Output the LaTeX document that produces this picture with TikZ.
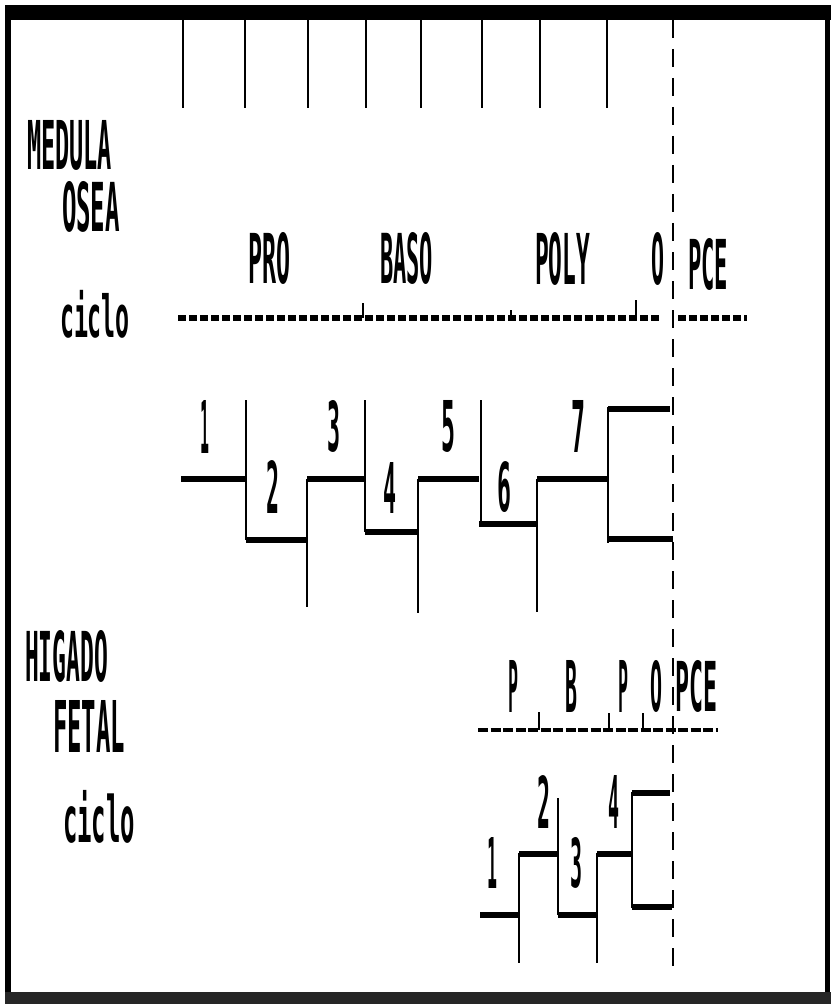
\documentclass[tikz,border=0pt]{standalone}
\usepackage{fontspec}
\setmainfont{DejaVu Sans Mono}
\newcommand{\dmt}[3]{\resizebox*{#1pt}{#2pt}{\bfseries #3}}
\tikzset{
  lbl/.style={inner sep=0pt, outer sep=0pt, anchor=north west},
  vl/.style={line width=1.6pt},
  hl/.style={line width=6pt},
  bigdash/.style={line width=6pt, dash pattern=on 8pt off 3pt},
  smalldash/.style={line width=3.5pt, dash pattern=on 10pt off 2.5pt},
  vdash/.style={line width=2.2pt, dash pattern=on 18pt off 11pt},
  tick/.style={line width=1.3pt}
}
\begin{document}
\begin{tikzpicture}[x=1pt,y=-1pt]
\useasboundingbox (0,0) rectangle (833,1008);
\fill[white] (0,0) rectangle (833,1008);
% frame
\fill (5,5) rectangle (831,20);
\fill (5,5) rectangle (11,1004);
\fill (825,5) rectangle (830,1000);
\fill[black!85] (5,992) rectangle (831,1004);
% top vertical lines
\foreach \x in {183,245,308,366,421,482,540,607}
  \draw[vl] (\x,20) -- (\x,108);
% dashed vertical
\draw[vdash] (673,20) -- (673,975);
% labels left
\node[lbl] (medula) at (27,120) {\dmt{85}{50}{MEDULA}};
\node[lbl] (osea) at (62,181) {\dmt{58}{51}{OSEA}};
\node[lbl] (ciclo1) at (60,290) {\dmt{70}{48}{ciclo}};
\node[lbl] (higado) at (25,630) {\dmt{83}{52}{HIGADO}};
\node[lbl] (fetal) at (53,700) {\dmt{72}{52}{FETAL}};
\node[lbl] (ciclo2) at (63,790) {\dmt{72}{53}{ciclo}};
% upper stage labels
\node[lbl] (pro) at (248,232) {\dmt{42}{52}{PRO}};
\node[lbl] (baso) at (380,232) {\dmt{53}{52}{BASO}};
\node[lbl] (poly) at (535,232) {\dmt{55}{53}{POLY}};
\node[lbl] (o1) at (651,232) {\dmt{13}{53}{O}};
\node[lbl] (pce1) at (688,238) {\dmt{40}{52}{PCE}};
\draw[bigdash] (178,318) -- (660,318);
\draw[bigdash] (678,318) -- (747,318);
\draw[tick] (363,303) -- (363,318);
\draw[tick] (511,310) -- (511,318);
\draw[tick] (636,300) -- (636,318);
% upper step chart
\draw[hl] (181,479) -- (246,479);
\draw[hl] (246,540) -- (307,540);
\draw[hl] (307,479) -- (365,479);
\draw[hl] (365,532) -- (418,532);
\draw[hl] (418,479) -- (479,479);
\draw[hl] (479,524) -- (537,524);
\draw[hl] (537,479) -- (608,479);
\draw[hl] (608,409) -- (670,409);
\draw[hl] (608,539) -- (673,539);
\draw[vl] (246,400) -- (246,540);
\draw[vl] (307,479) -- (307,607);
\draw[vl] (365,400) -- (365,532);
\draw[vl] (418,479) -- (418,613);
\draw[vl] (481,400) -- (481,523);
\draw[vl] (537,479) -- (537,612);
\draw[vl] (608,407) -- (608,543);
\node[lbl] (n1) at (200,400) {\dmt{9}{53}{1}};
\node[lbl] (n2) at (266,460) {\dmt{13}{53}{2}};
\node[lbl] (n3) at (327,400) {\dmt{13}{52}{3}};
\node[lbl] (n4) at (383,462) {\dmt{13}{51}{4}};
\node[lbl] (n5) at (441,400) {\dmt{14}{52}{5}};
\node[lbl] (n6) at (497,462) {\dmt{14}{51}{6}};
\node[lbl] (n7) at (571,400) {\dmt{14}{52}{7}};
% lower stage labels
\node[lbl] (p1) at (508,660) {\dmt{10}{52}{P}};
\node[lbl] (b1) at (565,660) {\dmt{12}{52}{B}};
\node[lbl] (p2) at (618,660) {\dmt{10}{52}{P}};
\node[lbl] (o2) at (650,660) {\dmt{12}{52}{O}};
\node[lbl] (pce2) at (675,660) {\dmt{42}{52}{PCE}};
\draw[smalldash] (478,730) -- (718,730);
\draw[tick] (539,712) -- (539,730);
\draw[tick] (609,713) -- (609,730);
\draw[tick] (643,713) -- (643,730);
% lower step chart
\draw[hl] (480,915) -- (519,915);
\draw[hl] (519,854) -- (558,854);
\draw[hl] (558,915) -- (597,915);
\draw[hl] (597,854) -- (632,854);
\draw[hl] (632,793) -- (670,793);
\draw[hl] (632,907) -- (672,907);
\draw[vl] (519,853) -- (519,963);
\draw[vl] (558,798) -- (558,915);
\draw[vl] (597,853) -- (597,963);
\draw[vl] (632,792) -- (632,908);
\node[lbl] (m1) at (487,837) {\dmt{10}{51}{1}};
\node[lbl] (m2) at (537,775) {\dmt{13}{53}{2}};
\node[lbl] (m3) at (570,837) {\dmt{12}{51}{3}};
\node[lbl] (m4) at (608,775) {\dmt{11}{53}{4}};
\end{tikzpicture}
\end{document}
